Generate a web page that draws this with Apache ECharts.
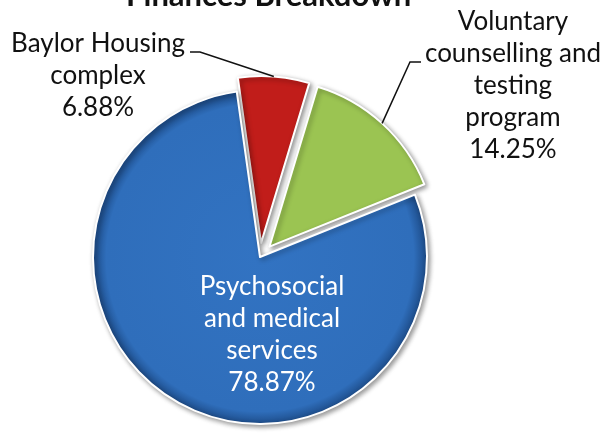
<!DOCTYPE html>
<html><head><meta charset="utf-8">
<script src="https://cdn.jsdelivr.net/npm/echarts@6/dist/echarts.min.js"></script>
<style>html,body{margin:0;padding:0;background:#fff}#c{width:614px;height:434px}</style>
</head><body><div id="c"></div>
<script>
// ---- data ----
const titleText = 'Finances Breakdown';
const categories = ['Baylor Housing complex', 'Voluntary counselling and testing program', 'Psychosocial and medical services'];
const labelNames = ['Baylor Housing\ncomplex', 'Voluntary\ncounselling and\ntesting\nprogram', 'Psychosocial\nand medical\nservices'];
const percentages = [6.88, 14.25, 78.87];
const exploded = [true, true, false];

// ---- styles ----
const FONT = 'Lato';
const sliceColors = [
  ['#cc2520', '#c11d1a', '#8a1010'],
  ['#a3cc5a', '#9bc452', '#6e8d35'],
  ['#3273c2', '#2f6ebb', '#1c4a86']
];
const labelPos = [
  {x: 98, y: 76},
  {x: 513, y: 86},
  {x: 272, y: 335}
];
const PIE_CENTER = [260, 257];
const PIE_R = 167;
const OFFSET = 14;
const START = 98;

function grad(c) {
  return {type: 'radial', x: 0.5, y: 0.5, r: 0.5,
    colorStops: [{offset: 0, color: c[0]}, {offset: 0.92, color: c[1]}, {offset: 1, color: c[2]}]};
}

const sliceData = categories.map((name, i) => ({
  name: name,
  value: percentages[i],
  selected: exploded[i],
  itemStyle: {color: i === 2 ? grad(sliceColors[i]) : sliceColors[i][1]}
}));

const labelData = categories.map((name, i) => ({
  name: name,
  value: percentages[i],
  label: i === 2 ? {color: '#ffffff'} : {color: '#111111'},
  labelLine: {show: i !== 2}
}));

const chart = echarts.init(document.getElementById('c'), null, {renderer: 'canvas'});
chart.setOption({
  animation: false,
  backgroundColor: '#ffffff',
  title: {
    text: titleText, left: 121, top: -25,
    textStyle: {fontFamily: FONT, fontSize: 31, fontWeight: 'bold', color: '#111'}
  },
  series: [{
    type: 'pie',
    center: PIE_CENTER,
    radius: PIE_R,
    startAngle: START,
    clockwise: true,
    selectedMode: 'multiple',
    selectedOffset: OFFSET,
    silent: true,
    emphasis: {disabled: true},
    itemStyle: {borderColor: '#ffffff', borderWidth: 2, shadowBlur: 5, shadowColor: 'rgba(0,0,0,0.4)', shadowOffsetX: 2, shadowOffsetY: 2},
    label: {show: false},
    labelLine: {show: false},
    data: sliceData
  }, {
    type: 'pie',
    center: PIE_CENTER,
    radius: PIE_R + OFFSET,
    startAngle: START,
    clockwise: true,
    selectedMode: false,
    silent: true,
    emphasis: {disabled: true},
    z: 5,
    itemStyle: {color: 'rgba(0,0,0,0)', borderWidth: 0},
    label: {
      show: true,
      fontFamily: FONT, fontSize: 26, lineHeight: 32, align: 'center', width: 220, overflow: 'none',
      formatter: p => labelNames[p.dataIndex] + '\n' + percentages[p.dataIndex].toFixed(2) + '%'
    },
    labelLine: {show: true, length: 10, length2: 10, lineStyle: {color: '#111', width: 1.5}},
    labelLayout: function (params) {
      const i = params.dataIndex;
      const p = labelPos[i];
      const res = {x: p.x, y: p.y, align: 'center', verticalAlign: 'middle'};
      const start = params.labelLinePoints && params.labelLinePoints[0];
      if (start && i === 0) {
        res.labelLinePoints = [start, [p.x + 102, p.y - 24], [p.x + 92, p.y - 24]];
      } else if (start && i === 1) {
        res.labelLinePoints = [start, [p.x - 103, p.y - 24], [p.x - 92, p.y - 24]];
      }
      return res;
    },
    data: labelData
  }]
});
</script>
</body></html>
